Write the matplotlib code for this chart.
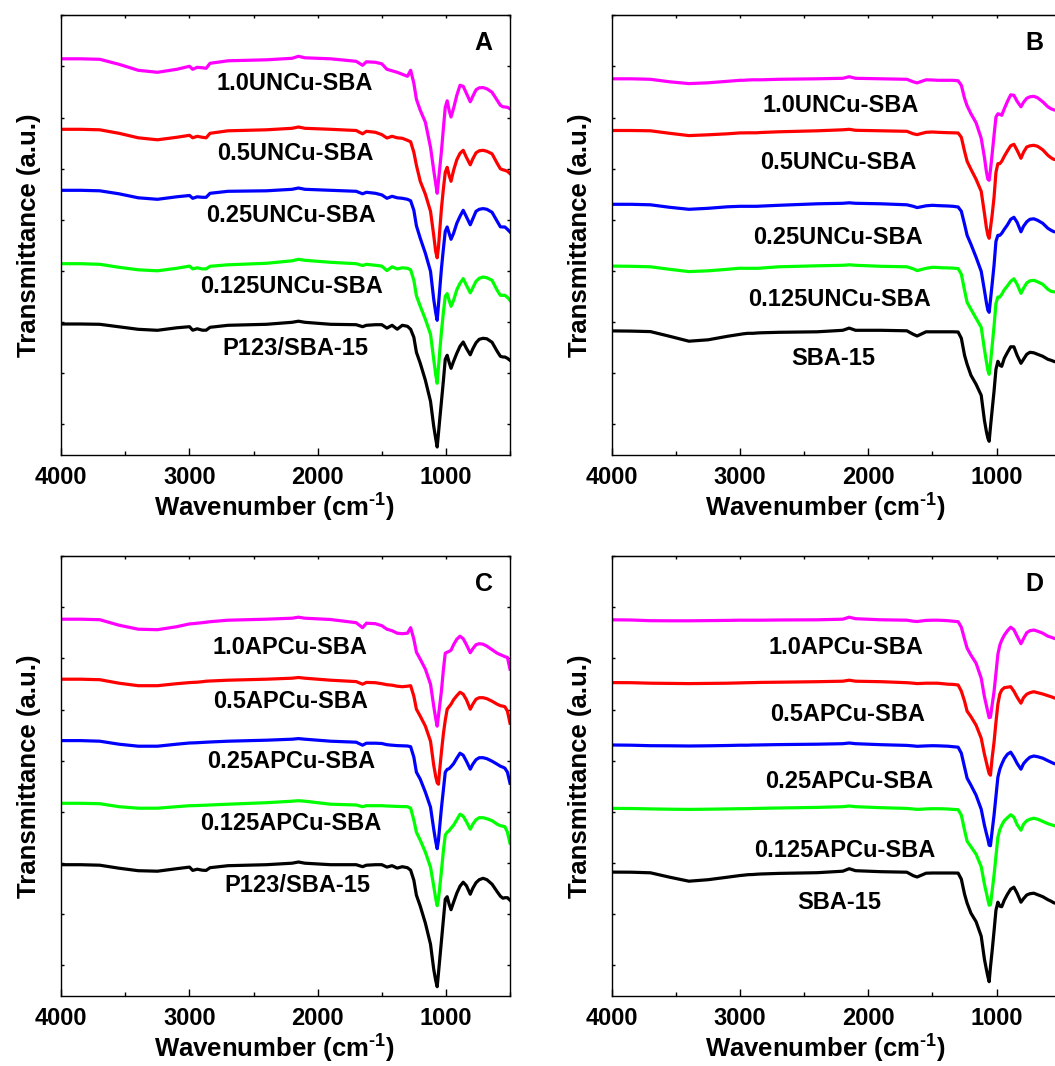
import numpy as np
import matplotlib
matplotlib.use("Agg")
import matplotlib.pyplot as plt
from matplotlib.ticker import MultipleLocator, FixedLocator, NullFormatter

plt.rcParams['font.family'] = ['Liberation Sans', 'DejaVu Sans']
plt.rcParams['font.weight'] = 'bold'
plt.rcParams['mathtext.fontset'] = 'custom'
plt.rcParams['mathtext.rm'] = 'Liberation Sans:bold'
plt.rcParams['mathtext.bf'] = 'Liberation Sans:bold'
plt.rcParams['mathtext.default'] = 'bf'

# wavenumber grid (cm-1), shared by all spectra
wavenumber = [4000, 3850, 3700, 3550, 3400, 3250, 3100, 3000, 2975, 2940, 2900, 2870, 2840,
              2700, 2400, 2200, 2150, 2100, 1900, 1700, 1650, 1620, 1550, 1500, 1460, 1420,
              1380, 1340, 1300, 1275, 1250, 1230, 1200, 1160, 1120, 1095, 1080, 1068, 1058,
              1048, 1035, 1020, 1005, 990, 975, 960, 940, 915, 890, 865, 840, 810, 790, 765,
              740, 710, 680, 640, 600, 575, 555, 540, 520, 500]

# (A) uncalcined UNCu-SBA series, offset transmittance (a.u.)
a_uncu_10 = [396.5, 396.5, 396, 391, 385, 383, 386, 389, 386, 388, 387.5, 387, 392, 394.5, 395.5,
             397, 399, 397.5, 396.5, 394, 390, 393.5, 393, 391.5, 386, 384.5, 383, 381, 379, 385,
             372, 356, 345, 333, 308, 285, 272, 262, 274.5, 287, 303.7, 326.5, 348, 354.5, 345,
             338.3, 347, 360, 370, 369, 362, 353.5, 359, 365.5, 367.5, 367.7, 366.5, 363, 355,
             350, 348.5, 348.3, 348, 346.5]
a_uncu_05 = [326, 326, 325.5, 322, 317.5, 315.5, 318, 320, 317.5, 319, 318, 317.5, 322, 324.5,
             325.5, 327, 328.3, 327, 326, 324.8, 321.5, 324, 323, 320.7, 317.3, 319, 317.5, 317,
             315, 313.5, 303, 290, 274, 261, 244, 220, 204, 197.5, 208, 225, 246.5, 266, 283,
             288, 280, 274, 285, 295.5, 302, 305, 298, 290.5, 296.5, 302.5, 304.5, 305, 304,
             301.5, 292, 286.5, 285.5, 285, 284, 281.7]
a_uncu_025 = [265, 265, 264.5, 261.5, 257.5, 256, 258.5, 259.8, 257, 258.5, 258, 258, 262, 264,
              264.5, 266, 267.3, 266, 265, 264, 261.5, 263, 262, 260.4, 257, 259, 257.5, 257,
              256, 254.5, 245, 229.5, 217, 202, 184, 156, 143, 135, 150.5, 166, 186.5, 206, 224,
              228.3, 222, 216, 222, 232, 239, 245, 238.5, 230.5, 236.5, 244, 246, 246.7, 246,
              243, 234, 228.5, 228.3, 228.3, 226, 223.3]
a_uncu_0125 = [191.6, 191.6, 191, 188, 185.5, 184.5, 187, 189.2, 186.4, 187.5, 186.4, 186.4, 189,
               190.5, 192, 194.5, 196, 195, 193, 191.6, 189.8, 191, 190, 189.2, 184.7, 188.5,
               186.4, 187.5, 187, 185.5, 175, 159.5, 149, 136, 121, 96, 81, 72, 88, 104, 123.5,
               142.5, 159, 161.7, 155, 149, 155, 165.5, 172, 176.7, 170, 162.5, 167.5, 174, 177,
               178.3, 177.5, 175, 165, 160, 160, 160, 158, 155]
a_p123 = [131.3, 131.3, 131, 128.5, 126, 125, 127.5, 128.6, 125.1, 126.5, 125.1, 125.1, 128, 130,
          131, 133, 134.1, 133, 131, 130.6, 128.6, 130, 130.6, 130.6, 127.2, 130, 126.1, 130, 129,
          126, 118, 103, 92, 75, 54, 29, 17, 8.3, 22, 36, 53.5, 74, 96, 100, 93, 87, 94, 102,
          109, 113.3, 107, 100.5, 106.5, 112.5, 116, 117, 116.5, 113, 104, 99, 98.3, 98.3, 97, 95]

# (B) calcined UNCu-SBA series (spectra stop at the right edge, 540 cm-1)
b_uncu_10 = [376.5, 376.5, 376, 373.5, 371.7, 372.5, 374, 375, 375, 375.3, 375.5, 375.5, 375.5,
             376, 376.5, 377, 378.6, 377, 376.5, 376, 373.5, 372.4, 375.5, 375.3, 375, 375, 375,
             375, 374.5, 370, 357, 349.5, 341.5, 332.5, 317, 298, 284, 276, 275, 285, 301, 320,
             338.3, 341.5, 341, 340, 346.5, 354, 360.5, 360, 354, 348.5, 353, 357, 358.5, 359,
             357.5, 353.5, 348.5, 346.5, 345.5, 345]
b_uncu_05 = [324.8, 324.8, 324.5, 322, 319.7, 320.5, 321.5, 322.4, 322.4, 322.5, 322.5, 322.5,
             322.8, 323.5, 324.5, 325.5, 326, 325, 324.5, 324, 321.5, 320.7, 323, 323.3, 323,
             322.8, 322.6, 322.5, 322.3, 318, 304, 294, 286, 276, 264, 242, 228, 220, 217, 227,
             240, 258, 283, 291.7, 291.7, 294, 299, 304.5, 309.5, 311, 305, 297, 303, 308.3,
             309.5, 310, 309, 305.5, 300, 297.5, 296, 295.7]
b_uncu_025 = [251, 251, 250.5, 248, 246, 247, 248.5, 249, 249, 249, 249, 249, 249.2, 250, 251.5,
              252, 252.5, 252, 251.5, 250.5, 249, 247.7, 249.5, 250, 249.7, 249.5, 249.3, 249,
              248.3, 244, 231, 220, 211, 198, 184, 165, 153, 145, 143, 155, 171, 190, 214, 220,
              220, 222, 226, 230.5, 236, 238, 233, 223.5, 229, 233.5, 236, 236.5, 235, 232, 227,
              225, 223.7, 223.3]
b_uncu_0125 = [189.2, 189, 188.5, 186, 183.7, 184.5, 186, 187.1, 187, 187, 187, 187, 187.2, 188.5,
               189.5, 190, 190.5, 190, 189, 188.5, 186.5, 184.7, 187, 188, 187.8, 187.5, 187.4,
               187.2, 186.7, 181, 165, 153, 146, 137, 128, 106, 94, 85, 81, 92, 109, 129, 152,
               158.3, 158.3, 161, 165.5, 169.5, 174, 176.5, 171, 162, 167, 172.3, 174.5, 175,
               173.5, 171, 166, 164, 163.5, 163.3]
b_sba15 = [124.4, 124.2, 123.7, 119, 114.1, 115.5, 119, 121, 121.5, 122, 122, 122.3, 122.5, 123,
           123.5, 125, 127.2, 125, 125, 124.5, 121, 119.3, 123.5, 123.5, 123.5, 123.5, 123.5,
           123.5, 123.3, 117, 100, 91, 80, 71, 60, 35, 24, 17, 14, 28, 45, 64, 86, 94, 90, 89,
           97, 103, 108.5, 108.5, 100, 92, 96, 101, 103, 102.5, 101, 99, 96, 95, 94, 93.4]

# (C) uncalcined APCu-SBA series
c_apcu_10 = [377, 377, 376.5, 371, 367, 366.5, 369.5, 372.3, 372.5, 373, 373.5, 374, 374.5, 376,
             377, 378, 379, 378, 376.7, 373.5, 368.5, 373, 372.5, 370.5, 367, 365.5, 363, 362.5,
             363, 368.5, 357, 344, 337, 327, 312, 290, 278, 270, 280.3, 291, 305, 326, 343, 344,
             344.8, 346, 351.5, 357, 360, 357.5, 351.5, 343.5, 347.5, 351.5, 352.5, 352, 350,
             346.5, 343, 341.5, 340.5, 339.5, 338.8, 327]
c_apcu_05 = [317, 317, 316.5, 313, 310.5, 310.5, 312.5, 313.6, 313.8, 314, 314.5, 315, 315.2, 316,
             317, 318, 318.7, 318, 316, 314.6, 312, 313.8, 313.5, 312.5, 311.5, 311, 310, 309.5,
             310, 310.5, 300, 287, 280, 270, 255, 231, 220, 213.5, 212, 227, 244, 262, 276, 287,
             289.5, 292, 296.5, 300.5, 304, 302, 296.5, 287, 292, 297, 298.5, 298.5, 297.5, 295,
             292, 290.5, 290, 289.5, 285, 273]
c_apcu_025 = [255.6, 255.6, 255, 252, 250, 250, 252, 253.2, 253.3, 253.5, 253.8, 254, 254.2, 255,
              256, 257, 257.6, 257, 255, 254, 251, 253, 253, 252.7, 251.5, 251, 250.6, 250.4,
              250.2, 249.5, 239, 224, 217, 204, 189, 167, 155, 147.5, 156, 170, 188, 206, 224,
              226.8, 227.5, 229.5, 232.5, 238, 243, 241, 235, 227, 232, 236.5, 238.5, 238.5,
              237.5, 235, 232, 230, 229, 228, 224, 213]
c_apcu_0125 = [192.9, 192.9, 192.5, 189.5, 188, 188, 189.5, 190.5, 190.5, 190.7, 190.9, 191,
               191.2, 192, 193.5, 195, 195.5, 195, 192, 191.2, 189.5, 190.5, 190.5, 190.5, 190.2,
               190, 189.8, 189.6, 189.5, 188, 176, 164, 156, 144, 129, 110, 98, 90.5, 97, 109,
               125, 145, 161, 164, 165.5, 168, 171, 176.5, 182, 180, 174.5, 167, 172, 176.5,
               178.5, 178.5, 177.5, 175.5, 172, 170.5, 170, 169.5, 164, 153]
c_p123 = [131.5, 131.5, 131, 128, 125.5, 125, 127.5, 129.1, 125.8, 127, 126, 125.8, 128.5, 130.5,
          131.5, 133, 134.2, 133, 131.5, 131.5, 129.5, 131, 131.5, 131.5, 129.1, 130.5, 128.1,
          129.5, 128.5, 126, 116, 101, 90, 73, 52, 27, 16, 9.5, 23, 37, 55, 76, 97, 99.5, 92,
          86.5, 94, 103, 110, 114, 110.5, 102, 108, 113.5, 116.5, 117.9, 116.5, 112, 104.5, 100,
          98, 98.5, 98.5, 96]

# (D) calcined APCu-SBA series
d_apcu_10 = [376.4, 376.2, 375.5, 375.4, 375.4, 375.6, 375.8, 376, 376, 376, 376, 376, 376,
             376.2, 376.4, 377, 379, 377.5, 376.4, 376, 375, 374.7, 375.8, 376, 376, 375.8, 375.5,
             375, 374.5, 369, 357, 348, 341, 333, 318, 299.5, 291, 284, 278.5, 279, 291, 304.5,
             323, 342, 351, 356, 361, 365.5, 369, 366.5, 360, 352.5, 357.5, 363.5, 365.5, 366.2,
             365, 363, 360, 359, 358, 357.5]
d_apcu_05 = [313.6, 313.5, 313, 312.8, 312.6, 312.8, 313, 313.3, 313.4, 313.5, 313.6, 313.7,
             313.8, 314, 314.5, 315, 316, 315, 314.5, 313.5, 313, 312.6, 313, 313, 313, 312.5,
             312, 311.8, 311.2, 305, 295, 285, 279.5, 271, 258, 242, 234, 227.5, 222.5, 221, 238,
             254, 274, 292, 302, 306.2, 308.5, 309, 309.5, 305, 299, 293, 298.5, 302, 303.5,
             304.5, 303.5, 302.2, 300.5, 299.5, 298.5, 297.9]
d_apcu_025 = [251.2, 251, 250.5, 250.4, 250.2, 250.4, 250.7, 251, 251, 251, 251.2, 251.2, 251.3,
              251.6, 252, 252.5, 253.2, 252.5, 251.5, 250.8, 250.3, 249.9, 250.3, 250.5, 250.4,
              250.2, 250, 249.5, 249, 243, 229, 218, 211, 201, 187, 171, 163, 157, 151, 150.5,
              165, 181, 200, 219, 227, 232, 237.6, 242, 244, 239, 232.8, 227, 232.5, 236.2, 239,
              240.2, 239.5, 238, 235.5, 234, 232.8, 232.2]
d_apcu_0125 = [187.8, 187.7, 187.3, 187, 186.8, 187, 187.3, 187.5, 187.5, 187.6, 187.7, 187.8,
               187.9, 188.2, 188.8, 189.5, 190.2, 189.5, 188.5, 187.8, 187.2, 186.8, 187.3, 187.5,
               187.5, 187.4, 187.2, 186.8, 186.5, 181, 166, 155, 149.5, 142, 129.5, 112, 103.5,
               96.5, 91, 91.5, 105, 121, 140, 159, 166.5, 171, 175.5, 178.5, 181.5, 179, 171.5,
               166, 172, 175.5, 177, 178, 177, 174.8, 172.5, 171.5, 170.7, 170.2]
d_sba15 = [124.1, 124, 123.4, 119, 115, 116.5, 119, 120.7, 121, 121.5, 121.7, 122, 122.2, 122.8,
           123.5, 125, 127.5, 125.5, 124.5, 124, 120.5, 119.2, 123, 123.2, 123.2, 123.2, 123.2,
           123.2, 123.1, 117, 102, 93, 83, 74.5, 60, 37, 27, 19.5, 14.5, 29, 45, 65, 86, 94, 90,
           89.5, 96, 102, 107, 109, 103, 94, 97.5, 101.2, 102.5, 103, 101.5, 99.5, 96.5, 95,
           93.5, 92.9]

names_un = ['1.0UNCu-SBA', '0.5UNCu-SBA', '0.25UNCu-SBA', '0.125UNCu-SBA']
names_ap = ['1.0APCu-SBA', '0.5APCu-SBA', '0.25APCu-SBA', '0.125APCu-SBA']
colors = ['#ff00ff', '#ff0000', '#0000ff', '#00ff00', '#000000']

panels = [
    ('A', [a_uncu_10, a_uncu_05, a_uncu_025, a_uncu_0125, a_p123], names_un + ['P123/SBA-15'],
     [(2181, 365), (2174, 295), (2206, 233), (2201, 162.6), (2171, 100.6)], (61.3, 455.3)),
    ('B', [b_uncu_10, b_uncu_05, b_uncu_025, b_uncu_0125, b_sba15], names_un + ['SBA-15'],
     [(2220, 343.4), (2238, 286.6), (2238, 210.8), (2224, 148.8), (2277, 90.3)], (612, 455.3)),
    ('C', [c_apcu_10, c_apcu_05, c_apcu_025, c_apcu_0125, c_p123], names_ap + ['P123/SBA-15'],
     [(2215, 342.1), (2209, 288.5), (2209, 228.1), (2213, 166), (2158, 104)], (61.3, 996.2)),
    ('D', [d_apcu_10, d_apcu_05, d_apcu_025, d_apcu_0125, d_sba15], names_ap + ['SBA-15'],
     [(2177, 342.1), (2166, 275.1), (2149, 208), (2181, 139.2), (2224, 87.2)], (612, 996.2)),
]

W, H = 1055, 1066
fig = plt.figure(figsize=(W / 100, H / 100), dpi=100)

for letter, spectra, names, label_pos, (left_px, bottom_px) in panels:
    ax = fig.add_axes([left_px / W, (H - bottom_px) / H, 448.7 / W, 440 / H])
    for y, c in zip(spectra, colors):
        ax.plot(wavenumber[:len(y)], y, color=c, lw=2.3, solid_joinstyle='round')
    for (xw, yv), name in zip(label_pos, names):
        ax.text(xw, yv, name, ha='center', va='baseline', fontsize=17, fontweight='bold')

    ax.set_xlim(4000, 500)
    ax.set_ylim(0, 440)
    ax.xaxis.set_major_locator(FixedLocator([4000, 3000, 2000, 1000]))
    ax.xaxis.set_minor_locator(MultipleLocator(500))
    ax.yaxis.set_major_locator(FixedLocator(np.arange(440, 0, -51.1)))
    ax.yaxis.set_major_formatter(NullFormatter())
    ax.tick_params(axis='x', which='major', direction='in', length=5, width=1,
                   labelsize=17, pad=8)
    ax.tick_params(axis='x', which='minor', direction='in', length=3, width=1)
    ax.tick_params(axis='y', which='major', direction='in', length=2, width=1,
                   left=True, right=True)
    for s in ax.spines.values():
        s.set_linewidth(1.0)

    top = ax.secondary_xaxis('top')
    top.xaxis.set_major_locator(MultipleLocator(500))
    top.xaxis.set_major_formatter(NullFormatter())
    top.tick_params(direction='in', length=2, width=1)

    ax.text(0.941, 0.92, letter, transform=ax.transAxes, ha='center', va='baseline',
            fontsize=18, fontweight='bold')
    ax.text(0.4754, -0.139, 'Wavenumber (cm$^{\\text{-1}}$)', transform=ax.transAxes,
            ha='center', va='baseline', fontsize=18.5, fontweight='bold')
    ax.text(-0.0717, 0.499, 'Transmittance (a.u.)', transform=ax.transAxes, rotation=90,
            ha='center', va='center', fontsize=18.5, fontweight='bold')

fig.savefig('out.png', dpi=100)
